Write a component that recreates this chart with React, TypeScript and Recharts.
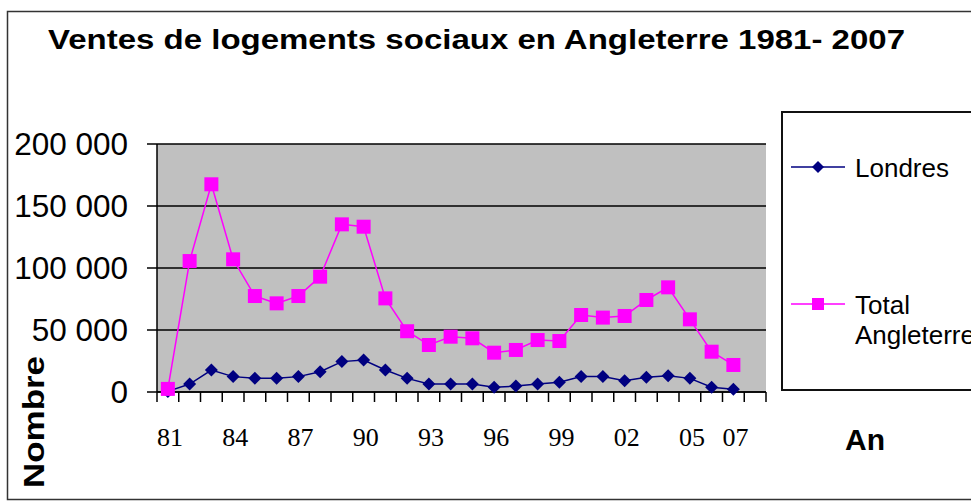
import { LineChart, Line, XAxis, YAxis, CartesianGrid } from "recharts";

// one category per year, last one (2008) is empty like in the original sheet
const years = [
  "1981", "1982", "1983", "1984", "1985", "1986", "1987", "1988", "1989", "1990",
  "1991", "1992", "1993", "1994", "1995", "1996", "1997", "1998", "1999", "2000",
  "2001", "2002", "2003", "2004", "2005", "2006", "2007", "2008",
];
const shownLabels = ["81", "84", "87", "90", "93", "96", "99", "02", "05", "07"];

const londres = [
  500, 6400, 17700, 12400, 11000, 11000, 12400, 16400, 24500, 25800,
  17700, 11000, 6400, 6400, 6400, 3800, 4800, 6400, 7800, 12400,
  12400, 9100, 11800, 13200, 11000, 3800, 2200,
];
const totalAngleterre = [
  2500, 105600, 167500, 107000, 77400, 71500, 77400, 93000, 135200, 133300,
  75500, 49000, 37900, 44600, 43300, 31700, 33900, 41900, 41100, 62100,
  60000, 61300, 74200, 84400, 58600, 32500, 21800,
];
const yTicks = [0, 50000, 100000, 150000, 200000];

const series = [
  { key: "londres", name: "Londres", color: "#000080", shape: "diamond" },
  { key: "total", name: "Total Angleterre", color: "#ff00ff", shape: "square" },
];

const data = years.map((y, i) => ({
  year: y,
  londres: londres[i] ?? null,
  total: totalAngleterre[i] ?? null,
}));

const W = 971;
const H = 504;
const PLOT_LEFT = 157;
const PLOT_RIGHT = 766;
const PLOT_TOP = 144;
const PLOT_BOTTOM = 392;
const BAND = (PLOT_RIGHT - PLOT_LEFT) / years.length;

const sans = "'Liberation Sans', Arial, sans-serif";
const serif = "'Liberation Serif', 'Times New Roman', serif";

const fmt = (v: number) => (v === 0 ? "0" : `${Math.round(v / 1000)} 000`);

function Diamond({ cx, cy, color, size }: any) {
  if (cx == null || cy == null) return <g />;
  const r = size;
  return (
    <polygon
      points={`${cx},${cy - r} ${cx + r},${cy} ${cx},${cy + r} ${cx - r},${cy}`}
      fill={color}
    />
  );
}

function Square({ cx, cy, color, size }: any) {
  if (cx == null || cy == null) return <g />;
  return <rect x={cx - size} y={cy - size} width={size * 2} height={size * 2} fill={color} />;
}

function YearTick(props: any) {
  const { x, y, payload, index } = props;
  const half = BAND / 2;
  const label = String(payload.value).slice(2);
  const last = index === years.length - 1;
  return (
    <g>
      <line x1={x - half} x2={x - half} y1={y - 10} y2={y} stroke="#000" strokeWidth={1.5} />
      {last && <line x1={x + half} x2={x + half} y1={y - 10} y2={y} stroke="#000" strokeWidth={1.5} />}
      {shownLabels.includes(label) && (
        <text x={x + 2} y={y + 44} textAnchor="middle" fontFamily={serif} fontSize={26} fill="#000">
          {label}
        </text>
      )}
    </g>
  );
}

function LegendBox() {
  const rows = [
    { ...series[0], y: 167, lines: ["Londres"] },
    { ...series[1], y: 304, lines: ["Total", "Angleterre"] },
  ];
  return (
    <g>
      <rect x={782} y={112} width={300} height={278} fill="#fff" stroke="#111" strokeWidth={2} />
      {rows.map((r) => (
        <g key={r.key}>
          <line x1={791} x2={845} y1={r.y} y2={r.y} stroke={r.color} strokeWidth={1.5} />
          {r.shape === "diamond" ? (
            <Diamond cx={818} cy={r.y} color={r.color} size={6} />
          ) : (
            <Square cx={818} cy={r.y} color={r.color} size={6} />
          )}
          {r.lines.map((t, i) => (
            <text key={t} x={855} y={r.y + 10 + i * 30} fontFamily={sans} fontSize={26} fill="#000">
              {t}
            </text>
          ))}
        </g>
      ))}
    </g>
  );
}

export default function App() {
  return (
    <div style={{ position: "relative", width: W, height: H, overflow: "hidden", background: "#fff" }}>
      <style>{"body{margin:0}"}</style>
      <LineChart
        width={W}
        height={H}
        data={data}
        margin={{ top: PLOT_TOP, right: W - PLOT_RIGHT, bottom: 0, left: 0 }}
      >
        <CartesianGrid vertical={false} fill="#c0c0c0" stroke="#000" strokeWidth={1.5} />
        <XAxis
          dataKey="year"
          scale="band"
          height={H - PLOT_BOTTOM}
          interval={0}
          tickSize={10}
          tickMargin={0}
          tickLine={false}
          tick={<YearTick />}
          axisLine={{ stroke: "#000", strokeWidth: 1.5 }}
        />
        <XAxis
          xAxisId="top"
          dataKey="year"
          scale="band"
          orientation="top"
          height={0}
          tick={false}
          tickLine={false}
          axisLine={{ stroke: "#808080" }}
        />
        <YAxis
          width={PLOT_LEFT}
          domain={[0, 200000]}
          ticks={yTicks}
          tickFormatter={fmt}
          tickSize={10}
          tickMargin={19}
          tickLine={{ stroke: "#000", strokeWidth: 1.5 }}
          axisLine={{ stroke: "#000", strokeWidth: 1.5 }}
          tick={{ fontFamily: sans, fontSize: 31.5, fill: "#000" }}
        />
        <YAxis
          yAxisId="right"
          orientation="right"
          width={0}
          domain={[0, 200000]}
          tick={false}
          tickLine={false}
          axisLine={{ stroke: "#808080" }}
        />
        <Line
          dataKey="londres"
          name="Londres"
          stroke="#000080"
          strokeWidth={1.5}
          dot={(p: any) => <Diamond key={`l${p.index}`} cx={p.cx} cy={p.cy} color="#000080" size={6.5} />}
          isAnimationActive={false}
        />
        <Line
          dataKey="total"
          name="Total Angleterre"
          stroke="#ff00ff"
          strokeWidth={1.5}
          dot={(p: any) => <Square key={`t${p.index}`} cx={p.cx} cy={p.cy} color="#ff00ff" size={7} />}
          isAnimationActive={false}
        />
      </LineChart>
      <svg width={W} height={H} style={{ position: "absolute", left: 0, top: 0, pointerEvents: "none" }}>
        <rect x={7.5} y={11.5} width={1000} height={488} fill="none" stroke="#333" strokeWidth={1.5} />
        <text
          x={48}
          y={49}
          fontFamily={sans}
          fontWeight="bold"
          fontSize={27}
          textLength={857}
          lengthAdjust="spacingAndGlyphs"
          fill="#000"
        >
          Ventes de logements sociaux en Angleterre 1981- 2007
        </text>
        <text
          transform="translate(44 422) rotate(-90)"
          textAnchor="middle"
          fontFamily={sans}
          fontWeight="bold"
          fontSize={30}
          textLength={132}
          lengthAdjust="spacingAndGlyphs"
          fill="#000"
        >
          Nombre
        </text>
        <text x={865} y={450} textAnchor="middle" fontFamily={sans} fontWeight="bold" fontSize={30} fill="#000">
          An
        </text>
        <LegendBox />
      </svg>
    </div>
  );
}
